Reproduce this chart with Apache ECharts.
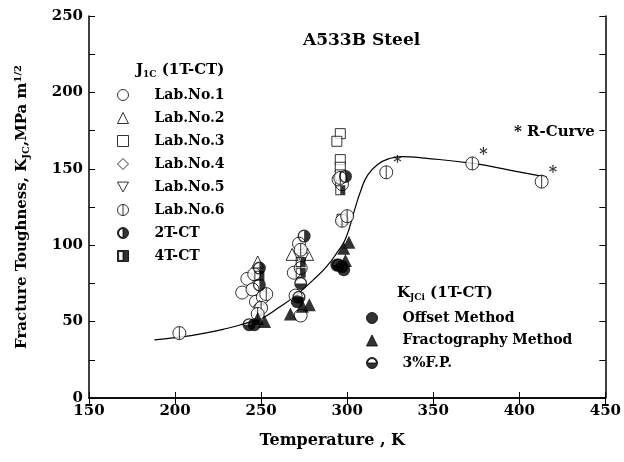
<!DOCTYPE html>
<html>
<head>
<meta charset="utf-8">
<script src="https://cdn.jsdelivr.net/npm/echarts@6/dist/echarts.min.js"></script>
<style>
  html, body { margin: 0; padding: 0; background: #fff; }
  #chart { width: 624px; height: 462px; }
</style>
</head>
<body>
<div id="chart"></div>
<script>
// J1C (1T-CT) data, temperature (K) / toughness (MPa m^1/2)
var lab1T = [239, 242, 245, 247, 251, 246, 272, 269, 273, 270, 295, 297];
var lab1K = [69, 78, 71, 63, 66, 81, 101, 82, 54, 67, 143, 140];
var lab2T = [248, 268, 277];
var lab2K = [89, 94, 94];
var lab3T = [296, 294, 296, 296, 296, 297];
var lab3K = [173, 168, 156, 151, 146, 117];
var lab4T = [249];
var lab4K = [60];
var lab5T = [250, 274];
var lab5K = [57, 91];
var lab6T = [253, 250, 248, 273, 273, 296, 297, 300, 202.5, 322.7, 372.7, 413];
var lab6K = [68, 59, 55, 97, 85, 144, 116, 119, 42.5, 147.7, 153.5, 141.6];
var t2ctT = [249, 249, 275, 299];
var t2ctK = [85, 74, 106, 145];
var t4ctT = [249, 273, 273, 296];
var t4ctK = [80, 89, 82, 136];
// KJCi (1T-CT)
var offsetT = [246, 271, 294, 297, 298];
var offsetK = [48, 63, 87, 86, 84];
var fractoT = [248, 252, 267, 278, 274, 298, 301, 299];
var fractoK = [52, 50, 55, 61, 60, 98, 102, 90];
var fpT = [243, 273, 272, 295];
var fpK = [48, 75, 66, 87];
// R-curve points (marked with *)
var rcurveT = [322.7, 372.7, 413];
var rcurveK = [147.7, 153.5, 141.6];
// fitted curve
var curveT = [188, 200, 215, 230, 240, 250, 260, 270, 280, 288, 294, 299, 304, 308, 312, 318, 324, 332, 345, 373, 395, 416];
var curveK = [38, 39.5, 42, 45.5, 48.5, 52, 59, 67, 77, 86, 95, 104, 122, 136, 146, 153, 156.5, 158, 157, 153.5, 149, 144.5];

var FONT = 'DejaVu Serif';

function pairs(xs, ys) {
    return xs.map(function (x, i) { return [x, ys[i]]; });
}

var CIRCLE = 'M-1,0 A1,1 0 1 1 1,0 A1,1 0 1 1 -1,0 Z';
var sym = {
    invTri: 'path://M-1,-0.9 L1,-0.9 L0,0.9 Z',
    lab6: 'path://' + CIRCLE + ' M0,-1 L0,1',
    half2T: 'path://' + CIRCLE + ' M0,-0.8 A0.8,0.8 0 0 0 0,0.8 Z',
    half4T: 'path://M-1,-1 L1,-1 L1,1 L-1,1 Z M-0.8,-0.8 L-0.8,0.8 L0,0.8 L0,-0.8 Z',
    halfFP: 'path://' + CIRCLE + ' M0.8,0 A0.8,0.8 0 0 0 -0.8,0 Z'
};

var openStyle = { color: '#fff', borderColor: '#000', borderWidth: 1 };
var fillStyle = { color: '#000', borderColor: '#000', borderWidth: 0 };

function scatter(name, xs, ys, symbol, size, style) {
    return {
        name: name,
        type: 'scatter',
        symbol: symbol,
        symbolSize: size,
        itemStyle: style,
        data: pairs(xs, ys)
    };
}

var chart = echarts.init(document.getElementById('chart'));

chart.setOption({
    animation: false,
    backgroundColor: '#fff',
    grid: { left: 89, right: 15, top: 16, bottom: 64 },
    xAxis: [{
        type: 'value', min: 150, max: 450, interval: 50,
        axisLine: { lineStyle: { color: '#000', width: 1.5 } },
        axisTick: { inside: true, length: 6, lineStyle: { color: '#000', width: 1 } },
        axisLabel: { color: '#000', fontFamily: FONT, fontWeight: 'bold', fontSize: 15, margin: 6 },
        splitLine: { show: false },
        name: 'Temperature , K',
        nameLocation: 'middle',
        nameGap: 35,
        nameTextStyle: { color: '#000', fontFamily: FONT, fontWeight: 'bold', fontSize: 16, padding: [0, 30, 0, 0] }
    }, {
        type: 'value', min: 150, max: 450, interval: 50, position: 'top',
        axisLine: { lineStyle: { color: '#000', width: 1.5 } },
        axisTick: { inside: true, length: 6, lineStyle: { color: '#000', width: 1 } },
        axisLabel: { show: false },
        splitLine: { show: false }
    }],
    yAxis: [{
        type: 'value', min: 0, max: 250, interval: 50,
        axisLine: { show: true, lineStyle: { color: '#000', width: 1.5 } },
        axisTick: { inside: true, length: 6, lineStyle: { color: '#000', width: 1 } },
        minorTick: { show: true, splitNumber: 2, length: 6, lineStyle: { color: '#000', width: 1 } },
        axisLabel: { color: '#000', fontFamily: FONT, fontWeight: 'bold', fontSize: 15, margin: 6 },
        splitLine: { show: false },
        name: 'Fracture Toughness, K{sub|JC},MPa m{sup|1/2}',
        nameLocation: 'middle',
        nameGap: 58,
        nameTextStyle: {
            color: '#000', fontFamily: FONT, fontWeight: 'bold', fontSize: 15,
            rich: {
                sub: { fontFamily: FONT, fontWeight: 'bold', fontSize: 10, verticalAlign: 'bottom', padding: [8, 0, 0, 0] },
                sup: { fontFamily: FONT, fontWeight: 'bold', fontSize: 10, verticalAlign: 'top', padding: [0, 0, 8, 0] }
            }
        }
    }, {
        type: 'value', min: 0, max: 250, interval: 50, position: 'right',
        axisLine: { show: true, lineStyle: { color: '#000', width: 1.5 } },
        axisTick: { inside: true, length: 6, lineStyle: { color: '#000', width: 1 } },
        minorTick: { show: true, splitNumber: 2, length: 6, lineStyle: { color: '#000', width: 1 } },
        axisLabel: { show: false },
        splitLine: { show: false }
    }],
    legend: [{
        orient: 'vertical', left: 112, top: 83,
        itemWidth: 11, itemHeight: 11, itemGap: 9,
        itemStyle: { borderWidth: 1 },
        textStyle: { color: '#000', fontFamily: FONT, fontWeight: 'bold', fontSize: 14, padding: [0, 0, 0, 21] },
        data: ['Lab.No.1', 'Lab.No.2', 'Lab.No.3', 'Lab.No.4', 'Lab.No.5', 'Lab.No.6', '2T-CT', '4T-CT']
    }, {
        orient: 'vertical', left: 361, top: 306,
        itemWidth: 11, itemHeight: 11, itemGap: 8.5,
        itemStyle: { borderWidth: 1 },
        textStyle: { color: '#000', fontFamily: FONT, fontWeight: 'bold', fontSize: 14, padding: [0, 0, 0, 20] },
        data: ['Offset Method', 'Fractography Method', '3%F.P.']
    }],
    graphic: [{
        type: 'text', left: 303, top: 32,
        style: { text: 'A533B Steel', fill: '#000', font: 'bold 17px "DejaVu Serif"' }
    }, {
        type: 'text', left: 514, top: 125,
        style: { text: '* R-Curve', fill: '#000', font: 'bold 15px "DejaVu Serif"' }
    }, {
        type: 'text', left: 136, top: 63,
        style: {
            text: 'J{sub|1C} (1T-CT)', fill: '#000', font: 'bold 15px "DejaVu Serif"',
            rich: { sub: { fontFamily: FONT, fontWeight: 'bold', fontSize: 9, padding: [8, 0, 0, 0] } }
        }
    }, {
        type: 'text', left: 397, top: 286,
        style: {
            text: 'K{sub|JCi} (1T-CT)', fill: '#000', font: 'bold 15px "DejaVu Serif"',
            rich: { sub: { fontFamily: FONT, fontWeight: 'bold', fontSize: 9, padding: [8, 0, 0, 0] } }
        }
    }],
    series: [
        {
            name: 'curve',
            type: 'line',
            smooth: true,
            showSymbol: false,
            lineStyle: { color: '#000', width: 1.2 },
            data: pairs(curveT, curveK),
            z: 1
        },
        scatter('Lab.No.1', lab1T, lab1K, 'circle', 13, openStyle),
        scatter('Lab.No.2', lab2T, lab2K, 'triangle', 12, openStyle),
        scatter('Lab.No.3', lab3T, lab3K, 'rect', 10, openStyle),
        scatter('Lab.No.4', lab4T, lab4K, 'diamond', 12, openStyle),
        scatter('Lab.No.5', lab5T, lab5K, sym.invTri, 12, openStyle),
        scatter('Lab.No.6', lab6T, lab6K, sym.lab6, 13, openStyle),
        scatter('2T-CT', t2ctT, t2ctK, sym.half2T, 13, fillStyle),
        scatter('4T-CT', t4ctT, t4ctK, sym.half4T, 10, fillStyle),
        scatter('Offset Method', offsetT, offsetK, 'circle', 13, fillStyle),
        scatter('Fractography Method', fractoT, fractoK, 'triangle', 13, fillStyle),
        scatter('3%F.P.', fpT, fpK, sym.halfFP, 13, fillStyle),
        {
            name: 'rcurve',
            type: 'scatter',
            symbolSize: 2,
            itemStyle: { color: 'rgba(0,0,0,0)' },
            label: {
                show: true, formatter: '*', position: 'right', distance: 6, offset: [0, -9],
                color: '#000', fontFamily: FONT, fontWeight: 'bold', fontSize: 16
            },
            data: pairs(rcurveT, rcurveK),
            z: 5
        }
    ]
});
</script>
</body>
</html>
